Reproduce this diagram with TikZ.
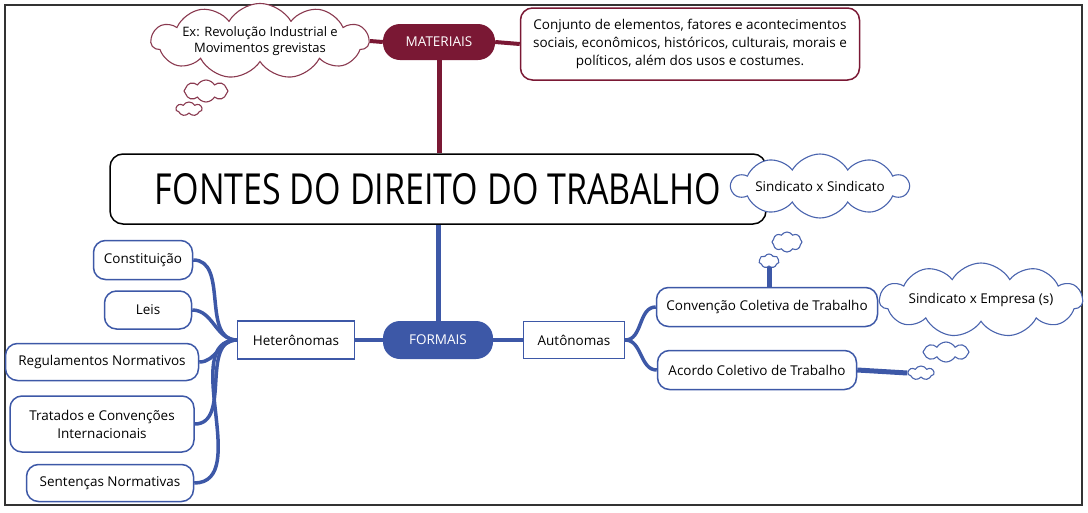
\documentclass[tikz,border=0pt]{standalone}
\usepackage{fontspec}
\usepackage{graphicx}
\setmainfont{Open Sans}
\usetikzlibrary{shapes.symbols}
\definecolor{mred}{HTML}{7A1834}
\definecolor{fblue}{HTML}{3D58A7}
\definecolor{cblue}{HTML}{4A64AE}
\definecolor{cred}{HTML}{8A3A50}
\definecolor{frame}{HTML}{333333}
\tikzset{
  base/.style={font=\fontsize{13.5}{17}\selectfont, text=black, align=center, inner sep=0pt},
  leaf/.style={base, draw=fblue, line width=1.5pt, rounded corners=12pt, fill=white},
  sqbox/.style={base, draw=fblue, line width=1.5pt, fill=white},
  pill/.style={base, text=white, rounded corners=17pt, font=\fontsize{13.5}{15}\selectfont},
  cloudbase/.style={cloud, cloud puffs=11, cloud puff arc=120, cloud ignores aspect, base, fill=white, line width=1.1pt},
  cloudr/.style={cloudbase, draw=cred},
  cloudb/.style={cloudbase, draw=cblue},
  conb/.style={draw=fblue, line width=4pt},
  conr/.style={draw=mred, line width=4pt},
}
\begin{document}
\begin{tikzpicture}[x=1pt,y=-1pt]
\useasboundingbox (0,0) rectangle (1088,512);
\draw[frame, line width=2pt] (5,5) rectangle (1082,505);

% MATERIAIS branch
\node[pill, fill=mred, minimum width=112, minimum height=36] (mat) at (439,42) {MATERIAIS};
\node[cloudr, minimum width=205, minimum height=64, font=\fontsize{13}{16}\selectfont] (excloud) at (260,41) {Ex: Revolução Industrial e\\Movimentos grevistas};
\node[cloudr, cloud puffs=8, minimum width=44, minimum height=22] (exs1) at (206,91) {};
\node[cloudr, cloud puffs=7, minimum width=26, minimum height=14] (exs2) at (189,109) {};
\node[base, draw=mred, line width=1.5pt, rounded corners=12pt, fill=white, minimum width=339, minimum height=72, font=\fontsize{13.5}{18}\selectfont] (matbox) at (690,44)
  {Conjunto de elementos, fatores e acontecimentos\\sociais, econômicos, históricos, culturais, morais e\\políticos, além dos usos e costumes.};

% Title
\node[base, draw=black, line width=1.5pt, rounded corners=13pt, fill=white, minimum width=656, minimum height=70] (title) at (438,189)
  {\resizebox{566pt}{31pt}{FONTES DO DIREITO DO TRABALHO}};
\node[cloudb, cloud puffs=10, minimum width=172, minimum height=64] (sindcloud) at (820,186) {Sindicato x Sindicato};
\node[cloudb, cloud puffs=8, minimum width=30, minimum height=20] (ss1) at (787,242) {};
\node[cloudb, cloud puffs=7, minimum width=20, minimum height=14] (ss2) at (769,261) {};

% FORMAIS branch
\node[pill, fill=fblue, minimum width=110, minimum height=38] (form) at (438,340) {FORMAIS};
\node[sqbox, minimum width=117, minimum height=38] (het) at (296,340) {Heterônomas};
\node[sqbox, minimum width=101, minimum height=37] (aut) at (574,340) {Autônomas};

\node[leaf, minimum width=99, minimum height=39] (const) at (143,260) {Constituição};
\node[leaf, minimum width=87, minimum height=38] (leis) at (148,310) {Leis};
\node[leaf, minimum width=193, minimum height=37] (reg) at (102,362) {Regulamentos Normativos};
\node[leaf, minimum width=184, minimum height=56, font=\fontsize{13.5}{18}\selectfont] (trat) at (102,424) {Tratados e Convenções\\Internacionais};
\node[leaf, minimum width=167, minimum height=37] (sent) at (110,483) {Sentenças Normativas};

\node[leaf, minimum width=221, minimum height=39] (conv) at (767,307) {Convenção Coletiva de Trabalho};
\node[leaf, minimum width=199, minimum height=39] (acor) at (757,370) {Acordo Coletivo de Trabalho};
\node[cloudb, minimum width=203, minimum height=74] (empcloud) at (981,300) {Sindicato x Empresa (s)};
\node[cloudb, cloud puffs=8, minimum width=46, minimum height=20] (es1) at (946,352) {};
\node[cloudb, cloud puffs=7, minimum width=26, minimum height=14] (es2) at (921,373) {};

% connectors
\draw[conr] (excloud.east) -- (mat.west);
\draw[conr] (mat.east) -- (matbox.west);
\draw[conr, line width=5pt] (mat.south) -- (mat.south |- title.north);
\draw[conb, line width=5pt] (title.south) -- (title.south |- form.north);
\draw[conb] (het.east) -- (form.west);
\draw[conb] (form.east) -- (aut.west);
\foreach \n in {const,leis,reg,trat,sent}
  \draw[conb, line width=3.5pt] (\n.east) to[out=0,in=180] (het.west);
\draw[conb, line width=3.5pt] (aut.east) to[out=0,in=180] (conv.west);
\draw[conb, line width=3.5pt] (aut.east) to[out=0,in=180] (acor.west);
\draw[conb, line width=5pt] (ss2.south) -- (ss2.south |- conv.north);
\draw[conb, line width=5pt] (acor.east) -- (es2.west);
\end{tikzpicture}
\end{document}
